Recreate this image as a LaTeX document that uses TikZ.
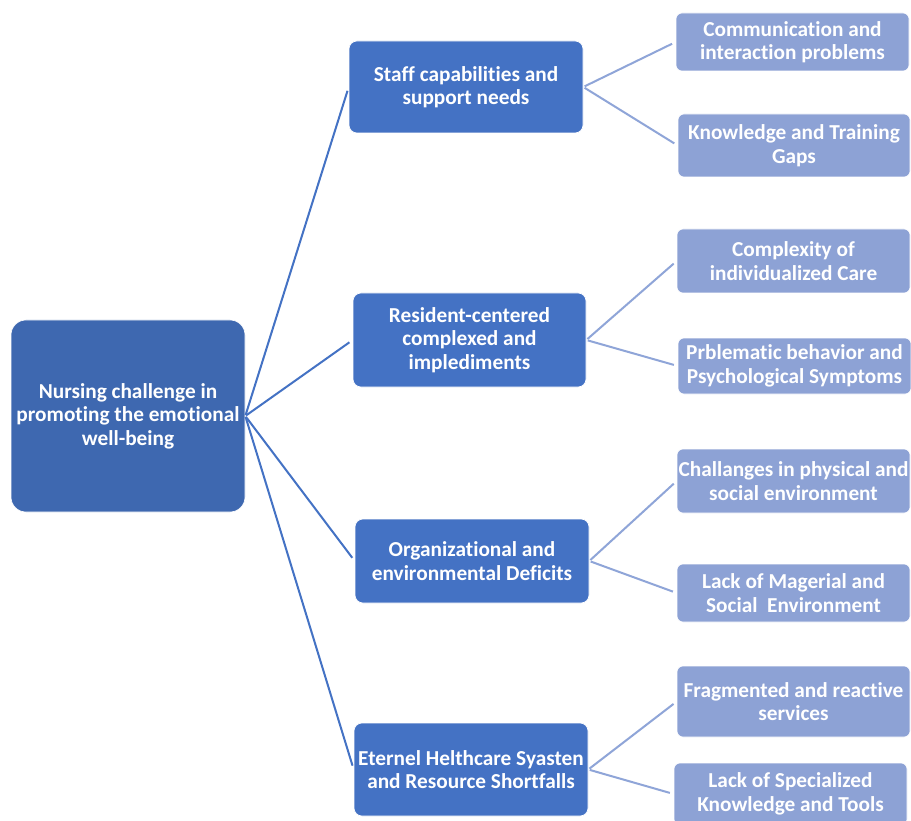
\documentclass[tikz,border=0pt]{standalone}
\usepackage{fontspec}
\setmainfont{Carlito}[Ligatures={NoCommon}]
\definecolor{rootc}{RGB}{62,104,176}
\definecolor{lonec}{RGB}{68,114,196}
\definecolor{ltwoc}{RGB}{141,162,213}
\definecolor{ltwoline}{RGB}{143,165,216}
\begin{document}
\begin{tikzpicture}[x=1pt,y=-1pt,
  box/.style={rectangle, inner sep=0pt, align=center, text=white,
    font=\fontsize{21.3}{23.5}\selectfont\bfseries, draw=white, line width=0.6pt},
  rootbox/.style={box, fill=rootc, rounded corners=15pt},
  onebox/.style={box, fill=lonec, rounded corners=8pt},
  twobox/.style={box, fill=ltwoc, rounded corners=6pt},
  oneedge/.style={draw=lonec, line width=2pt, shorten >=4pt, shorten <=1pt},
  twoedge/.style={draw=ltwoline, line width=2pt, shorten >=4pt, shorten <=1.5pt}]
\fill[white] (0,0) rectangle (911,821);
\useasboundingbox (0,0) rectangle (911,821);

\node[rootbox, minimum width=234pt, minimum height=192pt] (root) at (128,416)
  {Nursing challenge in\\promoting the emotional\\well-being};

\node[onebox, minimum width=234pt, minimum height=92pt] (s1) at (466,87)
  {Staff capabilities and\\support needs};
\node[onebox, minimum width=233pt, minimum height=94pt] (s2) at (469.5,340)
  {Resident-centered\\complexed and\\implediments};
\node[onebox, minimum width=234pt, minimum height=84pt] (s3) at (472,561)
  {Organizational and\\environmental Deficits};
\node[onebox, minimum width=234pt, minimum height=93pt] (s4) at (471,769.5)
  {Eternel Helthcare Syasten\\and Resource Shortfalls};

\node[twobox, minimum width=233pt, minimum height=58pt] (c1) at (792.5,42)
  {Communication and\\interaction problems};
\node[twobox, minimum width=232pt, minimum height=63pt] (c2) at (794,145.5)
  {Knowledge and Training\\Gaps};
\node[twobox, minimum width=233pt, minimum height=64pt] (c3) at (793.5,261)
  {Complexity of\\individualized Care};
\node[twobox, minimum width=233pt, minimum height=56pt] (c4) at (794.5,366)
  {Prblematic behavior and\\Psychological Symptoms};
\node[twobox, minimum width=233pt, minimum height=64pt] (c5) at (793.5,481)
  {Challanges in physical and\\social environment};
\node[twobox, minimum width=233pt, minimum height=58pt] (c6) at (793.5,593)
  {Lack of Magerial and\\Social\ \ Environment};
\node[twobox, minimum width=233pt, minimum height=71pt] (c7) at (793.5,701.5)
  {Fragmented and reactive\\services};
\node[twobox, minimum width=233pt, minimum height=62pt] (c8) at (790.5,794)
  {Lack of Specialized\\Knowledge and Tools};

\foreach \t in {s1,s2,s3,s4} \draw[oneedge] (root.east) -- (\t.west);
\draw[twoedge] (s1.east) -- (c1.west);
\draw[twoedge] (s1.east) -- (c2.west);
\draw[twoedge] (s2.east) -- (c3.west);
\draw[twoedge] (s2.east) -- (c4.west);
\draw[twoedge] (s3.east) -- (c5.west);
\draw[twoedge] (s3.east) -- (c6.west);
\draw[twoedge] (s4.east) -- (c7.west);
\draw[twoedge] (s4.east) -- (c8.west);
\end{tikzpicture}
\end{document}
